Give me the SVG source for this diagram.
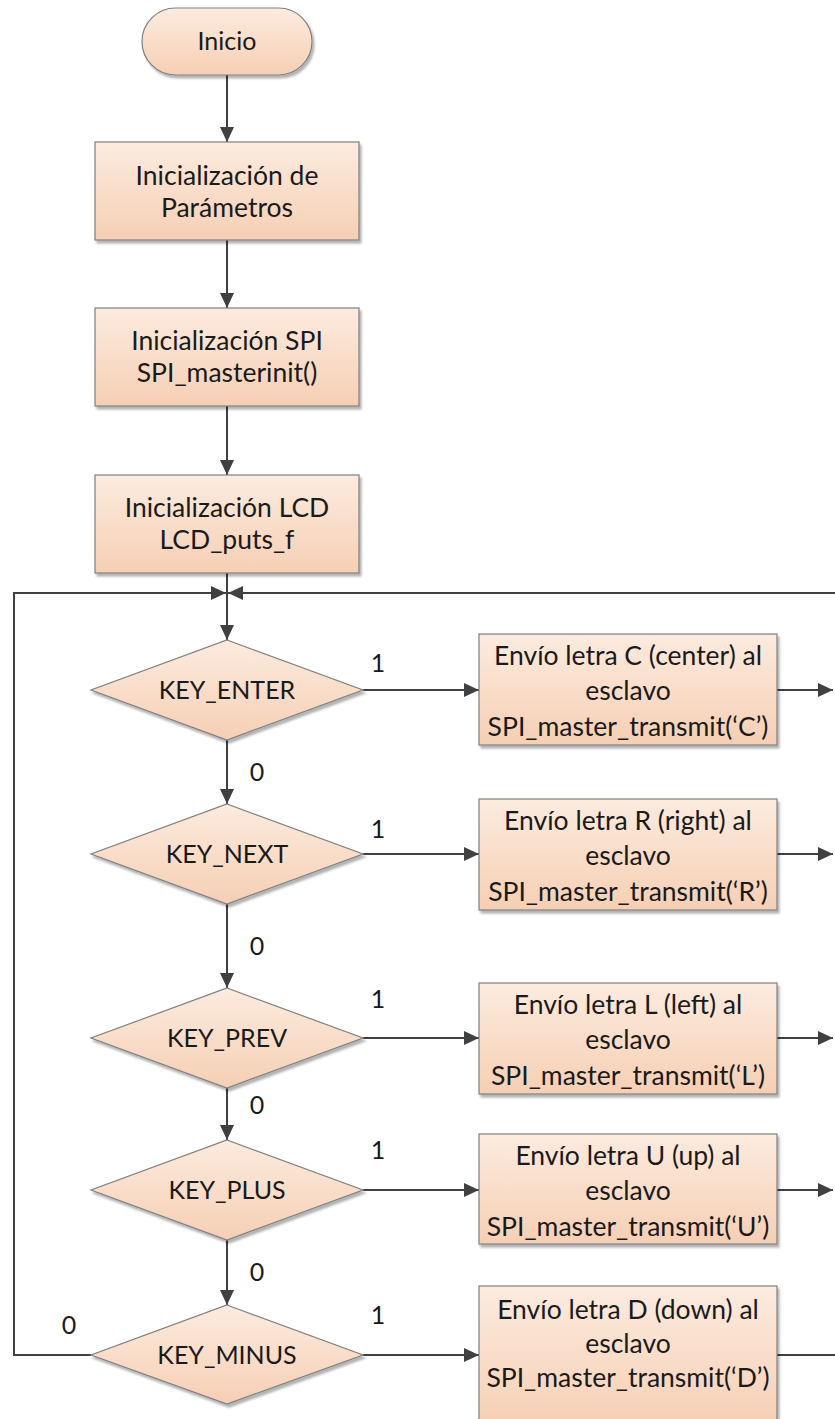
<svg xmlns="http://www.w3.org/2000/svg" width="835" height="1419" viewBox="0 0 835 1419">
<defs>
<linearGradient id="g" x1="0" y1="0" x2="0" y2="1">
<stop offset="0" stop-color="#fcebdf"/>
<stop offset="1" stop-color="#f6cfb4"/>
</linearGradient>
<filter id="sh" x="-5%" y="-5%" width="115%" height="120%">
<feDropShadow dx="2" dy="3" stdDeviation="1.2" flood-color="#000" flood-opacity="0.3"/>
</filter>
<marker id="ar" markerUnits="userSpaceOnUse" markerWidth="16" markerHeight="14" refX="15" refY="7" orient="auto">
<path d="M0,0 L15,7 L0,14 Z" fill="#404040"/>
</marker>
<style>
.s{fill:url(#g);stroke:#7f7f7f;stroke-width:1.2;filter:url(#sh)}
.t{font-family:Lato,"Liberation Sans",sans-serif;font-size:25px;fill:#1a1a1a;text-anchor:middle}
.b{font-size:26.5px}
.c{fill:none;stroke:#404040;stroke-width:2}
.a{marker-end:url(#ar)}
</style>
</defs>
<g id="connectors">
<line class="c a" x1="227" y1="75" x2="227" y2="142"/>
<line class="c a" x1="227" y1="240" x2="227" y2="308"/>
<line class="c a" x1="227" y1="406" x2="227" y2="475"/>
<line class="c a" x1="227" y1="573" x2="227" y2="640"/>
<polyline class="c a" points="91,1355 14,1355 14,593 226,593"/>
<line class="c a" x1="835" y1="593" x2="228" y2="593"/>
<line class="c a" x1="227" y1="740" x2="227" y2="804"/>
<line class="c a" x1="227" y1="904" x2="227" y2="988"/>
<line class="c a" x1="227" y1="1088" x2="227" y2="1140"/>
<line class="c a" x1="227" y1="1240" x2="227" y2="1305"/>
<line class="c a" x1="363" y1="690" x2="479" y2="690"/>
<line class="c a" x1="363" y1="854" x2="479" y2="854"/>
<line class="c a" x1="363" y1="1038" x2="479" y2="1038"/>
<line class="c a" x1="363" y1="1190" x2="479" y2="1190"/>
<line class="c a" x1="363" y1="1355" x2="479" y2="1355"/>
<line class="c a" x1="777" y1="690" x2="833" y2="690"/>
<line class="c a" x1="777" y1="854" x2="833" y2="854"/>
<line class="c a" x1="777" y1="1038" x2="833" y2="1038"/>
<line class="c a" x1="777" y1="1190" x2="833" y2="1190"/>
<line class="c" x1="777" y1="1355" x2="835" y2="1355"/>
<text class="t" x="378" y="672">1</text>
<text class="t" x="378" y="838">1</text>
<text class="t" x="378" y="1008">1</text>
<text class="t" x="378" y="1159">1</text>
<text class="t" x="378" y="1324">1</text>
<text class="t" x="257" y="781">0</text>
<text class="t" x="257" y="955">0</text>
<text class="t" x="257" y="1114">0</text>
<text class="t" x="257" y="1281">0</text>
<text class="t" x="69" y="1334">0</text>
</g>
<g id="inicio">
<rect class="s" x="142" y="8" width="170" height="67" rx="33.5"/>
<text class="t" x="227" y="50">Inicio</text>
</g>
<g id="init-param">
<rect class="s" x="95" y="142" width="264" height="98"/>
<text class="t b" x="227" y="185">Inicialización de</text>
<text class="t b" x="227" y="217">Parámetros</text>
</g>
<g id="init-spi">
<rect class="s" x="95" y="308" width="264" height="98"/>
<text class="t b" x="227" y="350">Inicialización SPI</text>
<text class="t b" x="227" y="382">SPI_masterinit()</text>
</g>
<g id="init-lcd">
<rect class="s" x="95" y="475" width="264" height="98"/>
<text class="t b" x="227" y="517">Inicialización LCD</text>
<text class="t b" x="227" y="549">LCD_puts_f</text>
</g>
<g id="key-enter">
<polygon class="s" points="227,640 363,690 227,740 91,690"/>
<text class="t" x="227" y="699">KEY_ENTER</text>
</g>
<g id="key-next">
<polygon class="s" points="227,804 363,854 227,904 91,854"/>
<text class="t" x="227" y="863">KEY_NEXT</text>
</g>
<g id="key-prev">
<polygon class="s" points="227,988 363,1038 227,1088 91,1038"/>
<text class="t" x="227" y="1047">KEY_PREV</text>
</g>
<g id="key-plus">
<polygon class="s" points="227,1140 363,1190 227,1240 91,1190"/>
<text class="t" x="227" y="1199">KEY_PLUS</text>
</g>
<g id="key-minus">
<polygon class="s" points="227,1305 363,1355 227,1404 91,1355"/>
<text class="t" x="227" y="1364">KEY_MINUS</text>
</g>
<g id="send-c">
<rect class="s" x="479" y="634" width="298" height="111"/>
<text class="t b" x="628" y="665">Envío letra C (center) al</text>
<text class="t b" x="628" y="700">esclavo</text>
<text class="t b" x="628" y="736">SPI_master_transmit(‘C’)</text>
</g>
<g id="send-r">
<rect class="s" x="479" y="799" width="298" height="111"/>
<text class="t b" x="628" y="830">Envío letra R (right) al</text>
<text class="t b" x="628" y="865">esclavo</text>
<text class="t b" x="628" y="901">SPI_master_transmit(‘R’)</text>
</g>
<g id="send-l">
<rect class="s" x="479" y="983" width="298" height="111"/>
<text class="t b" x="628" y="1014">Envío letra L (left) al</text>
<text class="t b" x="628" y="1049">esclavo</text>
<text class="t b" x="628" y="1085">SPI_master_transmit(‘L’)</text>
</g>
<g id="send-u">
<rect class="s" x="479" y="1134" width="298" height="110"/>
<text class="t b" x="628" y="1165">Envío letra U (up) al</text>
<text class="t b" x="628" y="1200">esclavo</text>
<text class="t b" x="628" y="1236">SPI_master_transmit(‘U’)</text>
</g>
<g id="send-d">
<rect class="s" x="479" y="1286" width="298" height="140"/>
<text class="t b" x="628" y="1319">Envío letra D (down) al</text>
<text class="t b" x="628" y="1353">esclavo</text>
<text class="t b" x="628" y="1387">SPI_master_transmit(‘D’)</text>
</g>
</svg>
